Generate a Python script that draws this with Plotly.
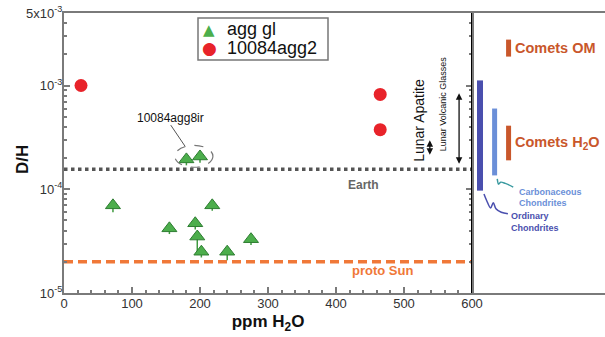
import numpy as np
import plotly.graph_objects as go

# ---------------- data ----------------
agg_gl_x = [72, 155, 193, 196, 202, 218, 240, 275, 180, 200]
agg_gl_y = [7.0e-5, 4.2e-5, 4.7e-5, 3.5e-5, 2.5e-5, 7.0e-5, 2.5e-5, 3.3e-5, 1.94e-4, 2.07e-4]
agg_gl_err_minus = [1.0e-5, 5e-6, 6e-6, 1.0e-5, 3e-6, 8e-6, 4.3e-6, 4e-6, 2.4e-5, 2.7e-5]
agg2_x = [25, 465, 465]
agg2_y = [1.0e-3, 8.2e-4, 3.75e-4]

earth_dh = 1.5576e-4
protosun_dh = 2.0e-5

# right-panel ranges (D/H)
oc_range = [9.7e-5, 1.12e-3]      # Ordinary Chondrites
cc_range = [1.36e-4, 6.0e-4]      # Carbonaceous Chondrites
comet_om_range = [1.9e-3, 2.77e-3]
comet_h2o_range = [1.9e-4, 4.1e-4]
lunar_glass_range = [1.7e-4, 8.4e-4]
lunar_apatite_range = [2.08e-4, 2.96e-4]

legend_labels = ["agg gl", "10084agg2"]

y_tickvals = [1e-5, 1e-4, 1e-3, 5e-3]
y_ticktext = ["10<sup>-5</sup>", "10<sup>-4</sup>", "10<sup>-3</sup>", "5x10<sup>-3</sup>"]
y_minor = [2e-5, 3e-5, 4e-5, 5e-5, 6e-5, 7e-5, 8e-5, 9e-5,
           2e-4, 3e-4, 4e-4, 5e-4, 6e-4, 7e-4, 8e-4, 9e-4,
           2e-3, 3e-3, 4e-3]
x_tickvals = [0, 100, 200, 300, 400, 500, 600]

FONT = "Liberation Sans, Arial, sans-serif"
GREEN = "#4cae4c"
RED = "#e8232a"
ORANGE_LINE = "#f07838"
ORANGE = "#c9572b"
OC_COL = "#4a4fae"
CC_COL = "#6b8fd8"
GRAY = "#7a7a7a"

L = np.log10
W, H = 605, 337
ML, MT, MB = 64, 13, 44
PW, PH = W - ML, H - MT - MB


def px(X):
    return (X - ML) / PW


def py(Y):
    return (H - MB - Y) / PH


fig = go.Figure()

# reference lines
fig.add_trace(go.Scatter(x=[0, 600], y=[earth_dh, earth_dh], mode="lines",
                         line=dict(color="#555555", width=3.5, dash="dot"),
                         showlegend=False, hoverinfo="skip"))
fig.add_trace(go.Scatter(x=[0, 600], y=[protosun_dh, protosun_dh], mode="lines",
                         line=dict(color=ORANGE_LINE, width=3.5, dash="9px,5px"),
                         showlegend=False, hoverinfo="skip"))

# data
fig.add_trace(go.Scatter(x=agg_gl_x, y=agg_gl_y, mode="markers", name=legend_labels[0],
                         error_y=dict(type="data", symmetric=False, array=[0] * len(agg_gl_y),
                                      arrayminus=agg_gl_err_minus, color="#3f9a3f",
                                      thickness=1.5, width=0),
                         marker=dict(symbol="triangle-up", size=13, color=GREEN,
                                     line=dict(color="#2e7d32", width=1)), showlegend=False))
fig.add_trace(go.Scatter(x=agg2_x, y=agg2_y, mode="markers", name=legend_labels[1],
                         marker=dict(symbol="circle", size=13, color=RED,
                                     line=dict(color=RED, width=0)), showlegend=False))

# right panel bars
def vbar(xpos, rng, color, width=6):
    fig.add_trace(go.Scatter(x=[xpos, xpos], y=rng, mode="lines", xaxis="x2", yaxis="y",
                             line=dict(color=color, width=width),
                             showlegend=False, hoverinfo="skip"))

vbar(0.06, oc_range, OC_COL, 6)
vbar(0.17, cc_range, CC_COL, 5)
vbar(0.275, comet_om_range, ORANGE, 5)
vbar(0.275, comet_h2o_range, ORANGE, 5)

# squiggle connectors (x2 coordinates)
fig.add_trace(go.Scatter(x=[0.19, 0.2, 0.215, 0.25, 0.31], y=[1.26e-4, 1.12e-4, 1.17e-4, 1.14e-4, 1.05e-4],
                         mode="lines", xaxis="x2", yaxis="y", line=dict(color="#3a9aa0", width=1.5, shape="spline"),
                         showlegend=False, hoverinfo="skip"))
fig.add_trace(go.Scatter(x=[0.09, 0.11, 0.14, 0.16, 0.18, 0.22, 0.27],
                         y=[9.0e-5, 7.8e-5, 6.6e-5, 7.4e-5, 6.5e-5, 6.0e-5, 5.8e-5],
                         mode="lines", xaxis="x2", yaxis="y", line=dict(color=OC_COL, width=1.5, shape="spline"),
                         showlegend=False, hoverinfo="skip"))

annotations = [
    dict(x=px(22), y=py(160), xref="paper", yref="paper", text="<b>D/H</b>", textangle=-90,
         xanchor="center", yanchor="middle",
         showarrow=False, font=dict(size=17, color="#111111", family=FONT)),
    # legend (manual)
    dict(x=px(209), y=py(30), xref="paper", yref="paper", text="▲", showarrow=False,
         xanchor="center", yanchor="middle", font=dict(size=15, color=GREEN, family="DejaVu Sans")),
    dict(x=px(209), y=py(48), xref="paper", yref="paper", text="●", showarrow=False,
         xanchor="center", yanchor="middle", font=dict(size=17, color=RED, family="DejaVu Sans")),
    dict(x=px(225), y=py(29), xref="paper", yref="paper", text=legend_labels[0], showarrow=False,
         xanchor="left", yanchor="middle", font=dict(size=18, color="#111111", family=FONT)),
    dict(x=px(225), y=py(48), xref="paper", yref="paper", text=legend_labels[1], showarrow=False,
         xanchor="left", yanchor="middle", font=dict(size=18, color="#111111", family=FONT)),
    dict(x=440, y=L(1.09e-4), xref="x", yref="y", text="<b>Earth</b>", showarrow=False,
         font=dict(size=12, color="#666666", family=FONT)),
    dict(x=469, y=L(1.66e-5), xref="x", yref="y", text="<b>proto Sun</b>", showarrow=False,
         font=dict(size=13, color=ORANGE_LINE, family=FONT)),
    dict(x=156, y=L(4.82e-4), xref="x", yref="y", text="10084agg8ir", showarrow=False,
         font=dict(size=12, color="#111111", family=FONT)),
    dict(x=521, y=L(4.6e-4), xref="x", yref="y", text="Lunar Apatite", textangle=-90, showarrow=False,
         font=dict(size=14, color="#111111", family=FONT)),
    dict(x=557, y=L(6.7e-4), xref="x", yref="y", text="Lunar Volcanic Glasses", textangle=-90, showarrow=False,
         font=dict(size=9, color="#111111", family=FONT)),
    # double arrows
    dict(x=581, y=L(lunar_glass_range[1]), ax=581, ay=L(lunar_glass_range[0]), xref="x", yref="y",
         axref="x", ayref="y", text="", showarrow=True, arrowhead=2, arrowside="end+start",
         arrowsize=1, arrowwidth=1.3, arrowcolor="#111111"),
    dict(x=538, y=L(lunar_apatite_range[1]), ax=538, ay=L(lunar_apatite_range[0]), xref="x", yref="y",
         axref="x", ayref="y", text="", showarrow=True, arrowhead=2, arrowside="end+start",
         arrowsize=1, arrowwidth=1.3, arrowcolor="#111111"),
    # right panel labels
    dict(x=0.31, y=L(2.3e-3), xref="x2", yref="y", text="<b>Comets OM</b>", showarrow=False, xanchor="left",
         font=dict(size=14.5, color=ORANGE, family=FONT)),
    dict(x=0.31, y=L(2.8e-4), xref="x2", yref="y", text="<b>Comets H<sub>2</sub>O</b>", showarrow=False, xanchor="left",
         font=dict(size=14.5, color=ORANGE, family=FONT)),
    dict(x=0.335, y=L(9.35e-5), xref="x2", yref="y", text="<b>Carbonaceous</b>", showarrow=False,
         xanchor="left", font=dict(size=9, color=CC_COL, family=FONT)),
    dict(x=0.335, y=L(7.33e-5), xref="x2", yref="y", text="<b>Chondrites</b>", showarrow=False,
         xanchor="left", font=dict(size=9, color=CC_COL, family=FONT)),
    dict(x=0.28, y=L(5.5e-5), xref="x2", yref="y", text="<b>Ordinary</b>", showarrow=False,
         xanchor="left", font=dict(size=9, color=OC_COL, family=FONT)),
    dict(x=0.28, y=L(4.22e-5), xref="x2", yref="y", text="<b>Chondrites</b>", showarrow=False,
         xanchor="left", font=dict(size=9, color=OC_COL, family=FONT)),
]

shapes = [
    # legend box
    dict(type="rect", xref="paper", yref="paper", x0=px(198), x1=px(328), y0=py(60), y1=py(18),
         line=dict(color="#777777", width=1.5), fillcolor="white", layer="below"),
    # dashed ellipse around 10084agg8ir
    dict(type="circle", xref="x", yref="y", x0=163, x1=219, y0=1.63e-4, y1=2.65e-4,
         line=dict(color="#777777", width=1.2, dash="dash")),
    # leader line
    dict(type="line", xref="x", yref="y", x0=157, y0=4.15e-4, x1=178, y1=2.6e-4,
         line=dict(color="#555555", width=1)),
    # separator between panels
    dict(type="line", xref="x", yref="paper", x0=600, x1=600, y0=0, y1=1,
         line=dict(color="#000000", width=2)),
]

dom = 408 / PW

fig.update_layout(
    width=W, height=H,
    margin=dict(l=ML, r=0, t=MT, b=MB, autoexpand=False),
    paper_bgcolor="white", plot_bgcolor="white",
    font=dict(family=FONT, size=13, color="#222222"),
    showlegend=False,
    xaxis=dict(domain=[0, dom], range=[0, 600], tickvals=x_tickvals, ticks="inside", ticklen=6,
               tickcolor=GRAY, tickwidth=1.5, showline=True, linecolor=GRAY, linewidth=2, mirror=True,
               showgrid=False, zeroline=False, tickfont=dict(size=13, color="#333333"),
               automargin=False, ticklabelstandoff=-3,
               minor=dict(dtick=20, ticks="inside", ticklen=3, tickcolor=GRAY, showgrid=False),
               title=dict(text="<b>ppm H<sub>2</sub>O</b>", font=dict(size=17, color="#111111"), standoff=6)),
    xaxis2=dict(domain=[dom, 1], range=[0, 1], showticklabels=False, ticks="", showgrid=False,
                zeroline=False, showline=True, linecolor=GRAY, linewidth=2, mirror=True, anchor="y",
                automargin=False),
    yaxis=dict(type="log", range=[-5, L(5e-3)], tickvals=y_tickvals, ticktext=y_ticktext,
               ticks="inside", ticklen=6, tickcolor=GRAY, tickwidth=1.5, showline=True, linecolor=GRAY,
               linewidth=2, mirror="ticks", showgrid=False, zeroline=False,
               tickfont=dict(size=13, color="#333333"), automargin=False, ticklabelstandoff=-3,
               minor=dict(tickvals=y_minor, ticks="inside", ticklen=3, tickcolor=GRAY, showgrid=False)),
    annotations=annotations,
    shapes=shapes,
)

fig.write_html("out.html", config={"displayModeBar": False},
               post_script="document.body.style.margin='0';document.body.style.padding='0';"
                           "document.documentElement.style.overflow='hidden';")
